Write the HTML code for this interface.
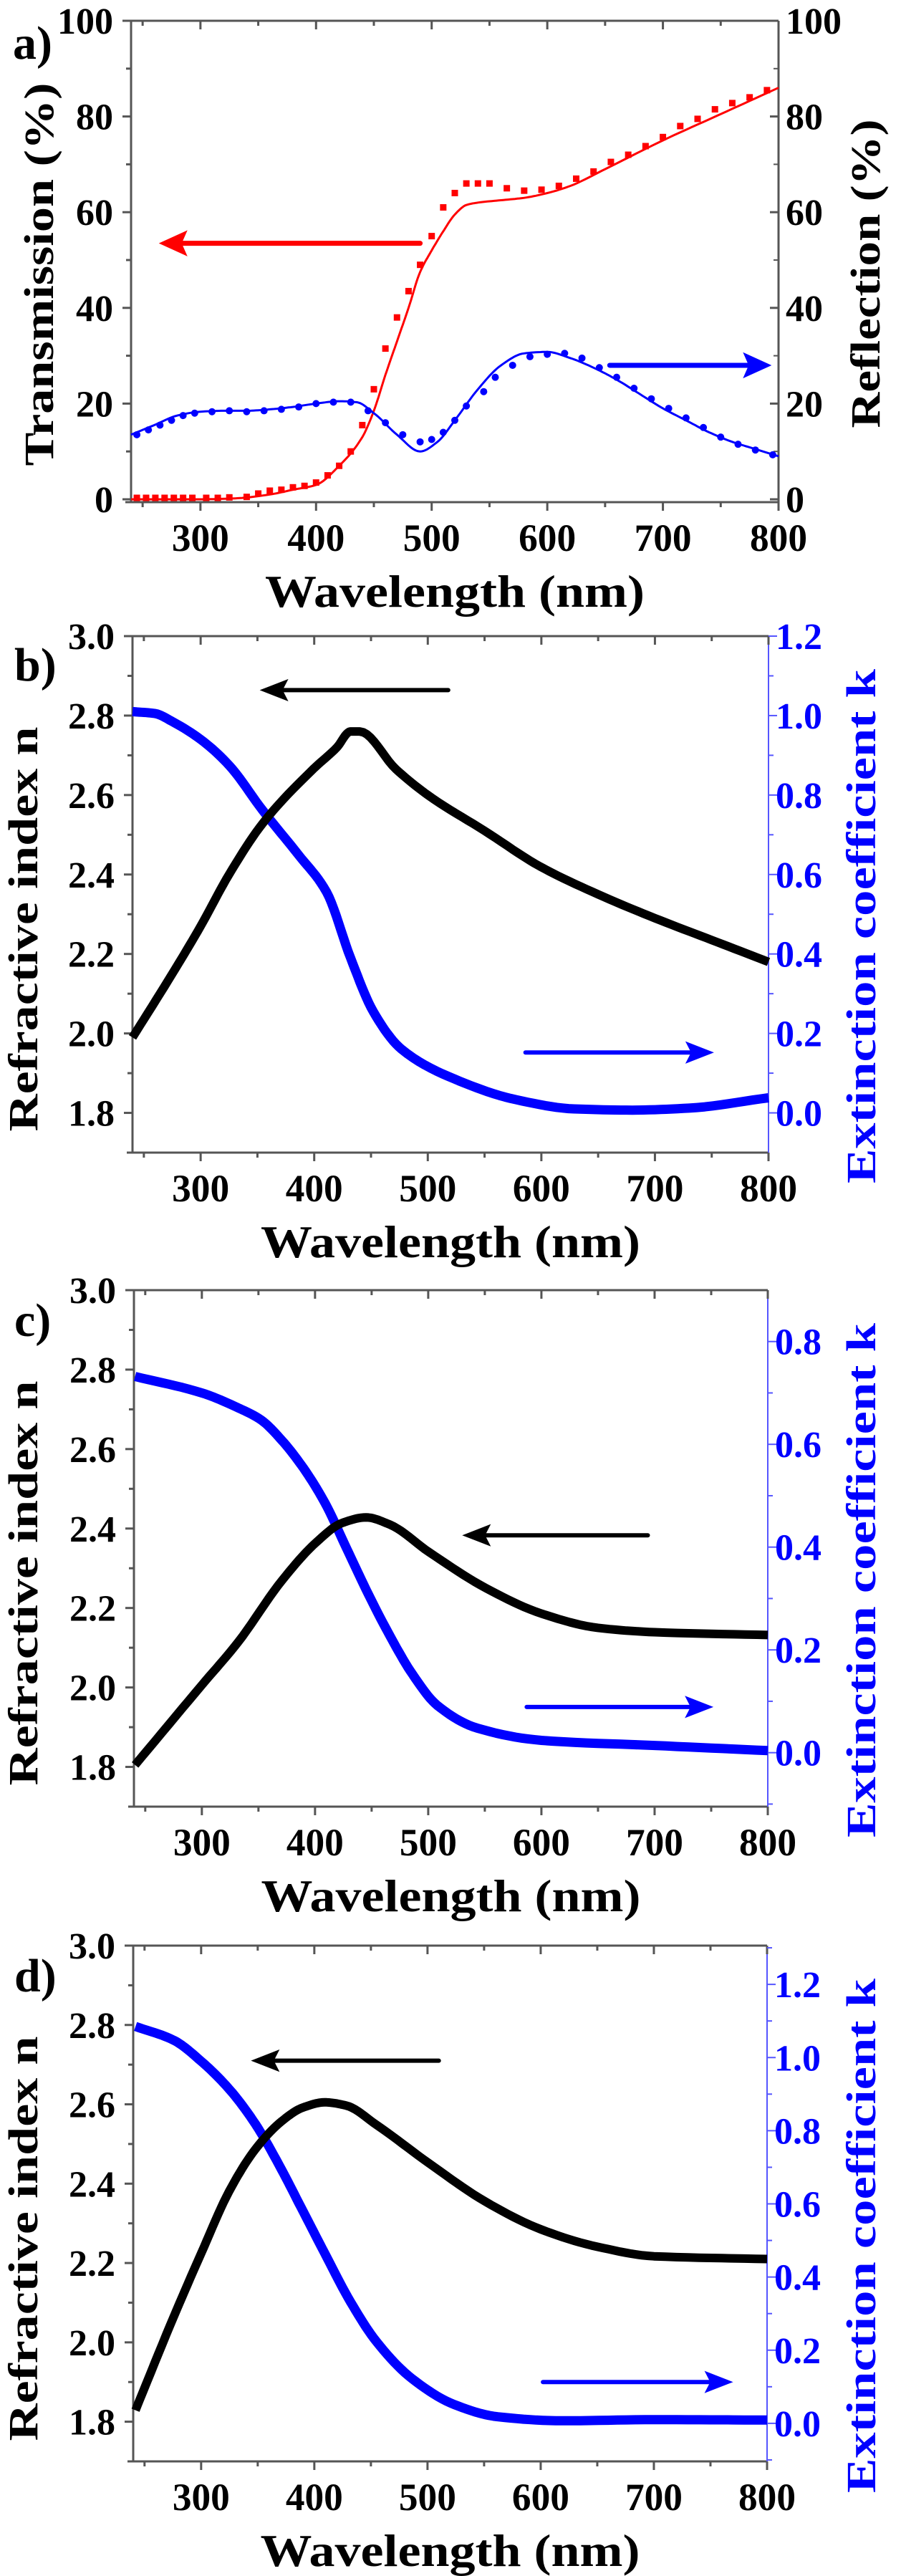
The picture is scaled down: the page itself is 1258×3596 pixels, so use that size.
<!DOCTYPE html>
<html><head><meta charset="utf-8"><style>
html,body{margin:0;padding:0;background:#fff}
svg{display:block}
text{font-family:"Liberation Serif","Times New Roman",Times,"DejaVu Serif",serif;font-weight:bold}
</style></head><body>
<svg id="fig" width="1258" height="3596" viewBox="0 0 1258 3596" xmlns="http://www.w3.org/2000/svg"></svg>
<script>
// Panel a data
const aTransLineWl=[240,300,330,360,380,400,420,440,450,460,470,480,490,500,510,520,530,540,560,580,600,620,650,700,750,800];
const aTransLineV=[0,0,0.2,1,2,3,7,13,18.5,26,33,40,47.5,52,56,59.5,61.5,62,62.5,63,64,65.5,69,75,80.5,86];
const aTransPtsWl=[245,253,261,269,277,285,293,305,315,325,340,350,360,370,380,390,400,410,420,430,440,450,460,470,480,490,500,510,520,530,540,550,565,580,595,610,625,640,655,670,685,700,715,730,745,760,775,790];
const aTransPtsV=[0.3,0.3,0.3,0.3,0.3,0.3,0.3,0.3,0.3,0.4,0.5,1.2,1.8,2,2.5,2.8,3.5,5,7,10,15.5,23,31.5,38,43.5,49,55,61,64,66,66,66,65,64.5,64.7,65.5,67,68.5,70.5,72,73.8,75.7,78,79.5,81.5,82.8,84,85.5];
const aReflLineWl=[240,260,280,300,320,340,360,380,400,420,435,450,470,490,505,520,540,560,580,600,620,640,660,680,700,720,740,760,780,800];
const aReflLineV=[13.5,15.5,17.5,18.3,18.5,18.5,18.8,19.3,20,20.5,20.3,18,13.5,10,12,16.5,23,28,30.5,30.8,29.5,27.5,25,22,19,16.5,14,12,10.5,9];
const aReflPtsWl=[245,255,265,275,285,295,310,325,340,355,370,385,400,415,430,445,460,475,490,500,510,520,530,545,555,570,585,600,615,630,645,660,675,690,705,720,735,750,765,780,795];
const aReflPtsV=[13.5,14.5,15.5,16.5,17.5,18,18.3,18.5,18.3,18.5,18.8,19.3,20,20.3,20.3,18.5,16,13.5,12,12.5,14,16.5,19.5,22.5,25.5,28,29.8,30.3,30.5,29.5,27.5,25.5,23.2,21,19,17,15,13,11.5,10.3,9.3];
// Panel b
const bWl=[240,275,300,325,355,399,420,432,440,472,500,550,599,650,700,750,800];
const bN=[1.99,2.15,2.27,2.40,2.53,2.665,2.72,2.76,2.76,2.665,2.60,2.51,2.42,2.35,2.29,2.235,2.18];
const bKWl=[240,260,275,300,325,355,386,411,432,452,477,528,578,629,680,730,800];
const bK=[1.01,1.005,0.985,0.94,0.875,0.76,0.65,0.555,0.39,0.255,0.16,0.08,0.033,0.01,0.007,0.012,0.038];
// Panel c
const cWl=[241,300,332,371,401,424,445,466,501,551,600,650,700,800];
const cN=[1.805,2.006,2.114,2.27,2.365,2.414,2.428,2.41,2.34,2.25,2.186,2.15,2.139,2.132];
const cKWl=[241,300,332,352,371,390,409,428,447,466,486,508,543,600,700,800];
const cK=[0.732,0.70,0.671,0.648,0.607,0.553,0.485,0.397,0.309,0.228,0.153,0.092,0.048,0.024,0.014,0.004];
// Panel d
const dWl=[242,276,300,325,348,371,390,409,428,455,501,551,600,650,700,800];
const dN=[1.829,2.066,2.224,2.382,2.487,2.557,2.592,2.605,2.597,2.548,2.452,2.355,2.285,2.241,2.217,2.21];
const dKWl=[242,276,300,325,348,371,390,409,432,455,486,524,562,619,700,800];
const dK=[1.085,1.047,0.99,0.913,0.818,0.694,0.58,0.466,0.332,0.223,0.123,0.051,0.018,0.007,0.01,0.009];
// tick labels
const xTickLabels=["300","400","500","600","700","800"];
const aYTicks=["0","20","40","60","80","100"];
const nTicks=["1.8","2.0","2.2","2.4","2.6","2.8","3.0"];
const bKTicks=["0.0","0.2","0.4","0.6","0.8","1.0","1.2"];
const cKTicks=["0.0","0.2","0.4","0.6","0.8"];
const dKTicks=["0.0","0.2","0.4","0.6","0.8","1.0","1.2"];

const NS="http://www.w3.org/2000/svg";
const svg=document.getElementById('fig');
const FONT='"Liberation Serif","Times New Roman",Times,"DejaVu Serif",serif';
function mk(tag,attrs,parent){const e=document.createElementNS(NS,tag);for(const k in attrs)e.setAttribute(k,attrs[k]);(parent||svg).appendChild(e);return e;}
function scale(d0,d1,r0,r1){return v=>r0+(v-d0)/(d1-d0)*(r1-r0);}
function monoPath(xs,ys,X,Y){
 const n=xs.length,d=[],m=new Array(n);
 for(let i=0;i<n-1;i++)d.push((ys[i+1]-ys[i])/(xs[i+1]-xs[i]));
 m[0]=d[0];m[n-1]=d[n-2];
 for(let i=1;i<n-1;i++){ if(d[i-1]*d[i]<=0)m[i]=0; else { const w1=2*(xs[i+1]-xs[i])+(xs[i]-xs[i-1]),w2=(xs[i+1]-xs[i])+2*(xs[i]-xs[i-1]); m[i]=(w1+w2)/(w1/d[i-1]+w2/d[i]); } }
 let s="";
 for(let i=0;i<n-1;i++){const h=xs[i+1]-xs[i];
  for(let j=0;j<=10;j++){ if(i>0&&j===0)continue; const t=j/10,t2=t*t,t3=t2*t;
   const v=(2*t3-3*t2+1)*ys[i]+(t3-2*t2+t)*h*m[i]+(-2*t3+3*t2)*ys[i+1]+(t3-t2)*h*m[i+1];
   s+=(s?" L":"M")+X(xs[i]+t*h).toFixed(1)+","+Y(v).toFixed(1);}}
 return s;}
function arrow(x1,x2,y,color,w,name){
 const g=mk('g',{});
 
 
 const dir=Math.sign(x2-x1),hl=40,hw=w*2.6;
 mk('line',{x1:x1,y1:y,x2:x2-dir*hl*0.8,y2:y,stroke:color,'stroke-width':w,'stroke-linecap':'round'},g);
 mk('polygon',{points:`${x2},${y} ${x2-dir*hl},${y-hw} ${x2-dir*hl*0.8},${y} ${x2-dir*hl},${y+hw}`,fill:color},g);
}
function text(x,y,s,size,anchor,color,name,rot,len){
 const t=mk('text',{x:x,y:y,'font-size':size,'text-anchor':anchor,fill:color,'font-family':FONT,'font-weight':'bold'});
 if(rot)t.setAttribute('transform',`rotate(-90 ${x} ${y})`);
 if(len){t.setAttribute('textLength',len);t.setAttribute('lengthAdjust','spacingAndGlyphs');}
 t.textContent=s;
 
 
 return t;
}
function panel(o){
 const g=mk('g',{});
 
 
 const X=scale(240,800,o.L,o.R),Y=scale(o.y0,o.y1,o.B,o.T),Y2=scale(o.k0,o.k1,o.B,o.T);
 const ax='#555';
 mk('line',{x1:o.L,y1:o.T,x2:o.R,y2:o.T,stroke:ax,'stroke-width':3},g);
 mk('line',{x1:o.L-8,y1:o.B,x2:o.R,y2:o.B,stroke:ax,'stroke-width':3},g);
 mk('line',{x1:o.L,y1:o.T,x2:o.L,y2:o.B,stroke:ax,'stroke-width':3},g);
 mk('line',{x1:o.R,y1:o.T,x2:o.R,y2:o.B,stroke:o.rc,'stroke-width':o.rc==='#55f'?2:3},g);
 for(let w=250;w<=800;w+=50){const maj=w%100===0,x=X(w),l=maj?12:7;
  mk('line',{x1:x,y1:o.B,x2:x,y2:o.B+l,stroke:ax,'stroke-width':3},g);
  mk('line',{x1:x,y1:o.T,x2:x,y2:o.T+l,stroke:ax,'stroke-width':3},g);}
 xTickLabels.forEach((s,i)=>{text(X(300+i*100),o.B+68,s,54,'middle','#000','x-tick-label',false,80);});
 text((o.L+o.R)/2,o.B+146,'Wavelength (nm)',64,'middle','#000','x-axis-title',false,530);
 o.lt.forEach((s,i)=>{const v=o.lv0+i*o.ls,y=Y(v);
  mk('line',{x1:o.L-12,y1:y,x2:o.L,y2:y,stroke:ax,'stroke-width':3},g);
  const ym=Y(v+o.ls/2); if(v+o.ls/2<o.y1) mk('line',{x1:o.L-7,y1:ym,x2:o.L,y2:ym,stroke:ax,'stroke-width':3},g);
  text(o.L-25,y+18,s,52,'end','#000','left-tick-label');});
 o.rt.forEach((s,i)=>{const v=o.rv0+i*o.rs,y=Y2(v);
  mk('line',{x1:o.R,y1:y,x2:o.R+(o.rin?-12:12),y2:y,stroke:o.rc,'stroke-width':o.rc==='#55f'?2:3},g);
  const vm=v+o.rs/2; if(vm<o.k1){const ym=Y2(vm);mk('line',{x1:o.R,y1:ym,x2:o.R+(o.rin?-7:7),y2:ym,stroke:o.rc,'stroke-width':2},g);}
  const vb=v-o.rs/2; if(i===0&&vb>o.k0){const ym=Y2(vb);mk('line',{x1:o.R,y1:ym,x2:o.R+(o.rin?-7:7),y2:ym,stroke:o.rc,'stroke-width':2},g);}
  text(o.R+10,y+18,s,52,'start',o.rlc,'right-tick-label');});
 text(o.lx,o.ly,o.ltitle,58,'middle','#000','left-axis-title',true,o.llen);
 text(o.rx,o.ry,o.rtitle,58,'middle',o.rlc,'right-axis-title',true,o.rlen);
 text(o.px,o.py,o.id+')',66,'start','#000','panel-label');
 return {X,Y,Y2,g};
}
(function(){
 const p=panel({id:'a',L:183,R:1087,T:29,B:701,y0:-0.6,y1:100,k0:-0.6,k1:100,lv0:0,ls:20,lt:aYTicks,rv0:0,rs:20,rt:aYTicks,rc:'#555',rlc:'#000',rin:true,
  ltitle:'Transmission (%)',rtitle:'Reflection (%)',lx:74,ly:383,rx:1228,ry:382,llen:535,rlen:431,px:18,py:82});
 const tl=mk('path',{d:monoPath(aTransLineWl,aTransLineV,p.X,p.Y),fill:'none',stroke:'#f00','stroke-width':3});
 
 const rl=mk('path',{d:monoPath(aReflLineWl,aReflLineV,p.X,p.Y),fill:'none',stroke:'#00f','stroke-width':3});
 
 aTransPtsWl.forEach((w,i)=>{const r=mk('rect',{x:p.X(w)-4.5,y:p.Y(aTransPtsV[i])-4.5,width:9,height:9,fill:'#f00'});
  });
 aReflPtsWl.forEach((w,i)=>{const c=mk('circle',{cx:p.X(w),cy:p.Y(aReflPtsV[i]),r:5,fill:'#00f'});
  });
 arrow(p.X(490),p.X(264),p.Y(53.5),'#f00',7,'transmission-axis-arrow');
 arrow(p.X(654),p.X(794),p.Y(28),'#00f',7,'reflection-axis-arrow');
})();
function nkPanel(cfg,wl,n,kwl,k,aN,aK){
 const p=panel(cfg);
 const kl=mk('path',{d:monoPath(kwl,k,p.X,p.Y2),fill:'none',stroke:'#00f','stroke-width':13,'stroke-linejoin':'round'});
 
 const nl=mk('path',{d:monoPath(wl,n,p.X,p.Y),fill:'none',stroke:'#000','stroke-width':12,'stroke-linejoin':'round'});
 
 arrow(p.X(aN[0]),p.X(aN[1]),p.Y(aN[2]),'#000',6,'n-axis-arrow');
 arrow(p.X(aK[0]),p.X(aK[1]),p.Y2(aK[2]),'#00f',6,'k-axis-arrow');
}
const common={y0:1.7,y1:3.0,lv0:1.8,ls:0.2,lt:nTicks,rc:'#55f',rlc:'#00f',ltitle:'Refractive index n',rtitle:'Extinction coefficient k',llen:565,rlen:718};
nkPanel(Object.assign({},common,{id:'b',L:185,R:1073,T:888,B:1609,k0:-0.1,k1:1.2,rv0:0,rs:0.2,rt:bKTicks,lx:52,ly:1297,rx:1222,ry:1293,px:20,py:950}),
 bWl,bN,bKWl,bK,[518,352,2.864],[586,752,0.152]);
nkPanel(Object.assign({},common,{id:'c',L:187,R:1072,T:1801,B:2522,k0:-0.105,k1:0.9,rv0:0,rs:0.2,rt:cKTicks,lx:52,ly:2210,rx:1222,ry:2206,px:20,py:1865}),
 cWl,cN,cKWl,cK,[694,530,2.383],[587,752,0.089]);
nkPanel(Object.assign({},common,{id:'d',L:186,R:1071,T:2716,B:3436,k0:-0.104,k1:1.306,rv0:0,rs:0.2,rt:dKTicks,lx:52,ly:3125,rx:1222,ry:3121,px:20,py:2780}),
 dWl,dN,dKWl,dK,[510,344,2.71],[602,770,0.113]);
</script>
</body></html>
